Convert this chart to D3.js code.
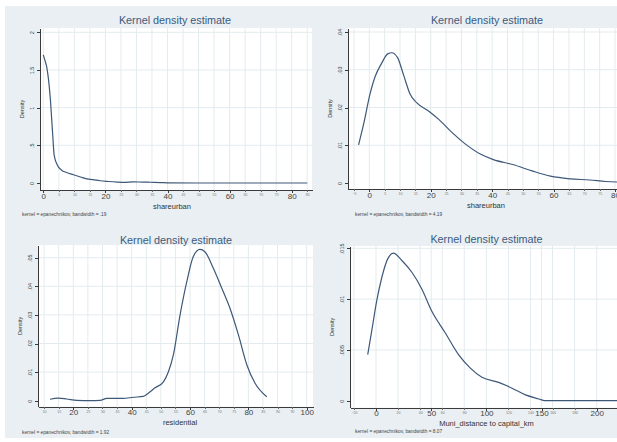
<!DOCTYPE html>
<html>
<head>
<meta charset="utf-8" />
<title>Kernel density estimates</title>
<script src="https://cdn.jsdelivr.net/npm/d3@7"></script>
<style>
    body {
        margin: 0;
        background: #ffffff;
    }
    text {
        font-family: "Liberation Sans", Arial, sans-serif;
    }
    .grid line {
        stroke: #e3ebee;
        stroke-width: 1px;
    }
    .axis path,
    .axis line {
        stroke: #3a3a3a;
        stroke-width: 1px;
        shape-rendering: crispEdges;
    }
    .axis text {
        fill: #444;
    }
    .minor line {
        stroke: #666;
    }
    .minor text {
        fill: #777;
    }
    .curve {
        fill: none;
        stroke: #3d5878;
        stroke-width: 1.2px;
    }
</style>
</head>
<body>
<svg id="chart" width="617" height="442"></svg>
<script>
// data
var titleText = "Kernel density estimate";

// top left: shareurban, bandwidth .19
var urbanNarrowX = [0, 0.5, 1.1, 2.2, 3.0, 3.5, 4.5, 5.9, 7.5, 9.7, 12, 14, 16, 18.3, 21, 23.7, 26, 29, 32, 34.5, 37.7, 40, 50, 60, 70, 80, 85];
var urbanNarrowY = [1.70, 1.63, 1.54, 1.15, 0.66, 0.37, 0.24, 0.17, 0.14, 0.11, 0.08, 0.055, 0.045, 0.03, 0.02, 0.012, 0.008, 0.015, 0.012, 0.01, 0.006, 0.002, 0, 0, 0, 0, 0];

// top right: shareurban, bandwidth 4.19
var urbanWideX = [-3.5, -1.8, 0.3, 1.9, 4.0, 6.0, 7.3, 9.2, 11.2, 13.3, 15.4, 19.6, 22.7, 26.9, 31, 36.3, 40.4, 46.7, 53, 59, 65.4, 71.7, 77, 83];
var urbanWideY = [0.0101, 0.0158, 0.0238, 0.0282, 0.0317, 0.0342, 0.0345, 0.0332, 0.0285, 0.0235, 0.0213, 0.0189, 0.0168, 0.0134, 0.0105, 0.0076, 0.0062, 0.0049, 0.0032, 0.0018, 0.0011, 0.0008, 0.0004, 0.0002];

// bottom left: residential, bandwidth 1.92
var residentialX = [12, 14.9, 17.7, 21.2, 25.7, 29.2, 31.5, 37, 40.6, 44, 45.7, 48, 50.9, 52.6, 54.3, 56.6, 58.9, 61.1, 63.4, 65.1, 68, 70.9, 73.7, 76.6, 79.5, 82.3, 86.3];
var residentialY = [0.0005, 0.0009, 0.0006, 0.0001, 0, 0.0001, 0.0008, 0.0008, 0.0012, 0.0015, 0.0026, 0.0045, 0.0066, 0.0101, 0.016, 0.030, 0.0416, 0.0503, 0.0529, 0.0521, 0.0463, 0.0393, 0.0323, 0.023, 0.0125, 0.0061, 0.0014];

// bottom right: distance to capital, bandwidth 8.07
var distanceX = [-7.5, -3.9, 0.6, 5.2, 10.6, 15.8, 23.4, 32.5, 41.5, 50.6, 62.7, 74.8, 85.5, 96, 111.2, 123.3, 135.5, 147.6, 153, 170, 190, 210, 219];
var distanceY = [0.00453, 0.00685, 0.0098, 0.0121, 0.01396, 0.01452, 0.0138, 0.01264, 0.011, 0.0088, 0.00669, 0.00453, 0.0032, 0.0023, 0.0018, 0.00123, 0.00057, 0.00017, 0, 0, 0, 0, 0];

// ticks
var urbanMajor = [0, 20, 40, 60, 80];
var urbanNarrowMinor = [5, 10, 15, 25, 30, 35, 45, 50, 55, 65, 70, 75, 85];
var urbanWideMinor = [-5, 5, 10, 15, 25, 30, 35, 45, 50, 55, 65, 70, 75];
var residentialMajor = [20, 40, 60, 80, 100];
var residentialMinor = [10, 15, 25, 30, 35, 45, 50, 55, 65, 70, 75, 85, 90, 95];
var distanceMajor = [0, 50, 100, 150, 200];
var distanceMinor = [-20, 20, 40, 60, 80, 120, 140, 160, 180];

var urbanNarrowYTicks = [0, 0.5, 1, 1.5, 2];
var urbanNarrowYLabels = ["0", ".5", "1", "1.5", "2"];
var urbanWideYTicks = [0, 0.01, 0.02, 0.03, 0.04];
var urbanWideYLabels = ["0", ".01", ".02", ".03", ".04"];
var residentialYTicks = [0, 0.01, 0.02, 0.03, 0.04, 0.05];
var residentialYLabels = ["0", ".01", ".02", ".03", ".04", ".05"];
var distanceYTicks = [0, 0.005, 0.01, 0.015];
var distanceYLabels = ["0", ".005", ".01", ".015"];

var xTitles = ["shareurban", "shareurban", "residential", "Muni_distance to capital_km"];
var notes = [
    "kernel = epanechnikov, bandwidth = .19",
    "kernel = epanechnikov, bandwidth = 4.19",
    "kernel = epanechnikov, bandwidth = 1.92",
    "kernel = epanechnikov, bandwidth = 8.07"
];

var svg = d3.select("#chart");

// background of the whole graph
svg.append("rect")
    .attr("x", 5).attr("y", 6)
    .attr("width", 612).attr("height", 432)
    .attr("fill", "#e9eff2");

// pixel layout of each panel
var layouts = [
    { left: 40, right: 312, top: 28, bottom: 190, x0: 43.3, x1: 291.7, y0: 183, y1: 32.3, titleX: 175, titleY: 24, xlabX: 172, xlabY: 208.5, noteX: 22, noteY: 215.5 },
    { left: 348, right: 625, top: 28, bottom: 189, x0: 369.3, x1: 615, y0: 183, y1: 32, titleX: 487, titleY: 24, xlabX: 486, xlabY: 207.5, noteX: 355, noteY: 215.5 },
    { left: 38, right: 313, top: 245, bottom: 406.7, x0: 73.3, x1: 306.7, y0: 400.7, y1: 257.7, titleX: 176, titleY: 244, xlabX: 180, xlabY: 425, noteX: 22, noteY: 433.5 },
    { left: 350, right: 625, top: 246, bottom: 407.7, x0: 376, x1: 596.7, y0: 400.7, y1: 248.3, titleX: 486.5, titleY: 243, xlabX: 486.5, xlabY: 425.5, noteX: 355, noteY: 432.5 }
];

var panels = [
    { xs: urbanNarrowX, ys: urbanNarrowY, major: urbanMajor, minor: urbanNarrowMinor, yTicks: urbanNarrowYTicks, yLabels: urbanNarrowYLabels },
    { xs: urbanWideX, ys: urbanWideY, major: urbanMajor, minor: urbanWideMinor, yTicks: urbanWideYTicks, yLabels: urbanWideYLabels },
    { xs: residentialX, ys: residentialY, major: residentialMajor, minor: residentialMinor, yTicks: residentialYTicks, yLabels: residentialYLabels },
    { xs: distanceX, ys: distanceY, major: distanceMajor, minor: distanceMinor, yTicks: distanceYTicks, yLabels: distanceYLabels }
];

panels.forEach(function(p, i) {
    var L = layouts[i];

    // scales: first and last major tick placed at x0/x1, extended to the plot edges
    var xa = p.major[0], xb = p.major[p.major.length - 1];
    var kx = (L.x1 - L.x0) / (xb - xa);
    var x = d3.scaleLinear()
        .domain([xa + (L.left - L.x0) / kx, xa + (L.right - L.x0) / kx])
        .range([L.left, L.right]);

    var ya = p.yTicks[0], yb = p.yTicks[p.yTicks.length - 1];
    var ky = (L.y0 - L.y1) / (yb - ya);
    var y = d3.scaleLinear()
        .domain([ya - (L.bottom - L.y0) / ky, ya + (L.y0 - L.top) / ky])
        .range([L.bottom, L.top]);

    var g = svg.append("g");

    g.append("rect")
        .attr("x", L.left).attr("y", L.top)
        .attr("width", L.right - L.left).attr("height", L.bottom - L.top)
        .attr("fill", "#ffffff");

    // grid
    var grid = g.append("g").attr("class", "grid");
    grid.selectAll(".h").data(p.yTicks.slice(1)).enter().append("line")
        .attr("x1", L.left).attr("x2", L.right)
        .attr("y1", function(d) { return y(d); })
        .attr("y2", function(d) { return y(d); });
    grid.selectAll(".v").data(p.major.concat(p.minor)).enter().append("line")
        .attr("x1", function(d) { return x(d); })
        .attr("x2", function(d) { return x(d); })
        .attr("y1", L.top).attr("y2", L.bottom);

    // curve
    var clipId = "clip" + i;
    g.append("clipPath").attr("id", clipId).append("rect")
        .attr("x", L.left).attr("y", L.top - 2)
        .attr("width", L.right - L.left).attr("height", L.bottom - L.top + 2);

    var pts = p.xs.map(function(v, j) { return [v, p.ys[j]]; });
    var line = d3.line()
        .x(function(d) { return x(d[0]); })
        .y(function(d) { return y(d[1]); })
        .curve(d3.curveMonotoneX);

    g.append("path")
        .datum(pts)
        .attr("class", "curve")
        .attr("clip-path", "url(#" + clipId + ")")
        .attr("d", line);

    // x axis, major
    var xAxis = g.append("g")
        .attr("class", "axis")
        .attr("transform", "translate(0," + L.bottom + ")")
        .call(d3.axisBottom(x).tickValues(p.major).tickSize(3).tickSizeOuter(0).tickFormat(d3.format("d")));
    xAxis.selectAll("text").attr("font-size", "8px").attr("y", 4).attr("dy", "0.6em");

    // x axis, minor ticks with tiny labels
    var xMinor = g.append("g")
        .attr("class", "axis minor")
        .attr("transform", "translate(0," + L.bottom + ")")
        .call(d3.axisBottom(x).tickValues(p.minor).tickSize(2).tickFormat(d3.format("d")));
    xMinor.select(".domain").remove();
    xMinor.selectAll("text").attr("font-size", "3.5px").attr("y", 4);

    // y axis
    var yAxis = g.append("g")
        .attr("class", "axis")
        .attr("transform", "translate(" + L.left + ",0)")
        .call(d3.axisLeft(y).tickValues(p.yTicks).tickSize(3).tickSizeOuter(0)
            .tickFormat(function(d, j) { return p.yLabels[j]; }));
    yAxis.selectAll("text")
        .attr("x", 0).attr("dy", 0)
        .attr("text-anchor", "middle")
        .attr("font-size", "5.5px")
        .attr("transform", "translate(-6,0) rotate(-90)");

    // texts
    g.append("text")
        .attr("x", L.titleX).attr("y", L.titleY)
        .attr("text-anchor", "middle")
        .attr("font-size", "10.8px")
        .attr("fill", "#3b5b7e")
        .text(titleText);

    g.append("text")
        .attr("x", L.xlabX).attr("y", L.xlabY)
        .attr("text-anchor", "middle")
        .attr("font-size", "7.5px")
        .attr("fill", "#333")
        .text(xTitles[i]);

    g.append("text")
        .attr("transform", "translate(" + (L.left - 16) + "," + ((L.top + L.bottom) / 2) + ") rotate(-90)")
        .attr("text-anchor", "middle")
        .attr("font-size", "5.5px")
        .attr("fill", "#333")
        .text("Density");

    g.append("text")
        .attr("x", L.noteX).attr("y", L.noteY)
        .attr("font-size", "4.8px")
        .attr("fill", "#444")
        .text(notes[i]);
});
</script>
</body>
</html>
